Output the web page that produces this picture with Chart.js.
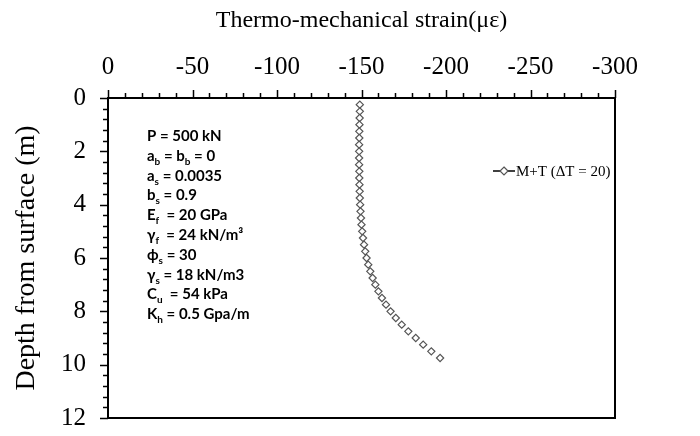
<!DOCTYPE html>
<html>
<head>
<meta charset="utf-8">
<script src="https://cdn.jsdelivr.net/npm/chart.js@4.4.0/dist/chart.umd.min.js"></script>
<style>
  html, body { margin: 0; padding: 0; background: #fff; }
  #wrap { width: 700px; height: 436px; }
</style>
</head>
<body>
<div id="wrap"><canvas id="strainChart"></canvas></div>
<script>
// depth below surface (m) and strain (με)
const depths = [0.25, 0.5, 0.75, 1.0, 1.25, 1.5, 1.75, 2.0, 2.25, 2.5,
  2.75, 3.0, 3.25, 3.5, 3.75, 4.0, 4.25, 4.5, 4.75, 5.0,
  5.25, 5.5, 5.75, 6.0, 6.25, 6.5, 6.75, 7.0, 7.25, 7.5,
  7.75, 8.0, 8.25, 8.5, 8.75, 9.0, 9.25, 9.5, 9.75];
const strainMT = [-149.0, -149.0, -148.9, -148.8, -148.7, -148.7, -148.6, -148.6, -148.6, -148.6,
  -148.7, -148.7, -148.8, -148.9, -149.0, -149.2, -149.4, -149.7, -150.0, -150.4,
  -150.9, -151.5, -152.2, -153.0, -154.0, -155.2, -156.6, -158.2, -160.0, -162.1,
  -164.5, -167.2, -170.3, -173.8, -177.7, -182.1, -186.5, -191.3, -196.5];
const seriesLabel = 'M+T (ΔT = 20)';

const xMin = -300, xMax = 0, xStep = 50, xMinor = 10;
const yMin = 0, yMax = 12, yStep = 2, yMinor = 0.4;

// text box, _{..} marks subscript
const paramLines = [
  'P = 500 kN',
  'a_{b} = b_{b} = 0',
  'a_{s} = 0.0035',
  'b_{s} = 0.9',
  'E_{f}  = 20 GPa',
  'γ_{f}  = 24 kN/m³',
  'ϕ_{s} = 30',
  'γ_{s} = 18 kN/m3',
  'C_{u}  = 54 kPa',
  'K_{h} = 0.5 Gpa/m'
];

const serif = "'Liberation Serif', 'Times New Roman', serif";
const tickFont = { family: serif, size: 25 };

function pointsFrom(xs, ys) {
  return xs.map((v, i) => ({ x: v, y: ys[i] }));
}

// frame + minor ticks
const framePlugin = {
  id: 'frame',
  afterDraw(chart) {
    const ctx = chart.ctx;
    const a = chart.chartArea;
    const xs = chart.scales.x, ys = chart.scales.y;
    ctx.save();
    ctx.strokeStyle = '#000';
    ctx.lineWidth = 2;
    ctx.strokeRect(a.left, a.top, a.right - a.left, a.bottom - a.top);
    ctx.lineWidth = 1.5;
    ctx.beginPath();
    const nx = Math.round((xMax - xMin) / xMinor);
    for (let i = 0; i <= nx; i++) {
      const v = xMax - i * xMinor;
      const px = Math.round(xs.getPixelForValue(v)) + 0.5;
      const major = (i * xMinor) % xStep === 0;
      ctx.moveTo(px, a.top);
      ctx.lineTo(px, a.top - (major ? 8 : 5));
    }
    const ny = Math.round((yMax - yMin) / yMinor);
    const per = Math.round(yStep / yMinor);
    for (let i = 0; i <= ny; i++) {
      const v = yMin + i * yMinor;
      const py = Math.round(ys.getPixelForValue(v)) + 0.5;
      ctx.moveTo(a.left, py);
      ctx.lineTo(a.left - (i % per === 0 ? 8 : 5), py);
    }
    ctx.stroke();
    ctx.restore();
  }
};

function drawRich(ctx, str, x, y) {
  const parts = str.split(/_\{([^}]*)\}/);
  let cx = x;
  parts.forEach((p, i) => {
    if (!p) return;
    const sub = i % 2 === 1;
    ctx.font = sub ? "bold 10px Lato, 'Open Sans', sans-serif" : "bold 15px Lato, 'Open Sans', sans-serif";
    ctx.fillText(p, cx, sub ? y + 4 : y);
    cx += ctx.measureText(p).width;
  });
}

const notesPlugin = {
  id: 'notes',
  afterDraw(chart) {
    const ctx = chart.ctx;
    const a = chart.chartArea;
    ctx.save();
    ctx.fillStyle = '#000';
    ctx.textBaseline = 'alphabetic';
    paramLines.forEach((line, i) => {
      drawRich(ctx, line, a.left + 39, a.top + 43 + i * 19.8);
    });

    // legend
    const lx = a.right - 122, ly = a.top + 73;
    ctx.strokeStyle = '#000';
    ctx.lineWidth = 1.5;
    ctx.beginPath();
    ctx.moveTo(lx, ly);
    ctx.lineTo(lx + 22, ly);
    ctx.stroke();
    ctx.fillStyle = '#fff';
    ctx.strokeStyle = '#555';
    ctx.lineWidth = 1.2;
    ctx.beginPath();
    ctx.moveTo(lx + 11, ly - 4);
    ctx.lineTo(lx + 15, ly);
    ctx.lineTo(lx + 11, ly + 4);
    ctx.lineTo(lx + 7, ly);
    ctx.closePath();
    ctx.fill();
    ctx.stroke();
    ctx.fillStyle = '#000';
    ctx.font = '15px ' + serif;
    ctx.textBaseline = 'middle';
    ctx.fillText(seriesLabel, lx + 23, ly + 1);
    ctx.restore();
  }
};

const ctx = document.getElementById('strainChart').getContext('2d');
const strainChart = new Chart(ctx, {
  type: 'scatter',
  data: {
    datasets: [{
      label: seriesLabel,
      data: pointsFrom(strainMT, depths),
      showLine: false,
      pointStyle: 'rectRot',
      radius: 3.6,
      borderColor: '#555',
      backgroundColor: '#fff',
      borderWidth: 1.2
    }]
  },
  options: {
    responsive: true,
    maintainAspectRatio: false,
    animation: false,
    layout: { padding: { top: 6, right: 85, bottom: 18, left: 0 } },
    plugins: {
      legend: { display: false },
      tooltip: { enabled: false }
    },
    scales: {
      x: {
        type: 'linear',
        position: 'top',
        min: xMin,
        max: xMax,
        reverse: true,
        grid: { display: false },
        border: { display: false },
        ticks: { stepSize: xStep, color: '#000', font: tickFont, padding: 8 },
        title: {
          display: true,
          text: 'Thermo-mechanical strain(με)',
          color: '#000',
          font: { family: serif, size: 24 },
          padding: { top: 0, bottom: 8 }
        },
        afterFit(scale) {
          scale.height = 92;
          scale.paddingLeft = 0;
          scale.paddingRight = 0;
        }
      },
      y: {
        min: yMin,
        max: yMax,
        reverse: true,
        grid: { display: false },
        border: { display: false },
        ticks: { stepSize: yStep, color: '#000', font: tickFont, padding: 14 },
        title: {
          display: true,
          text: 'Depth from surface (m)',
          color: '#000',
          font: { family: serif, size: 28 },
          padding: { top: 10, bottom: 2 }
        },
        afterFit(scale) {
          scale.width = 108;
          scale.paddingTop = 0;
          scale.paddingBottom = 0;
        }
      }
    }
  },
  plugins: [framePlugin, notesPlugin]
});
</script>
</body>
</html>
